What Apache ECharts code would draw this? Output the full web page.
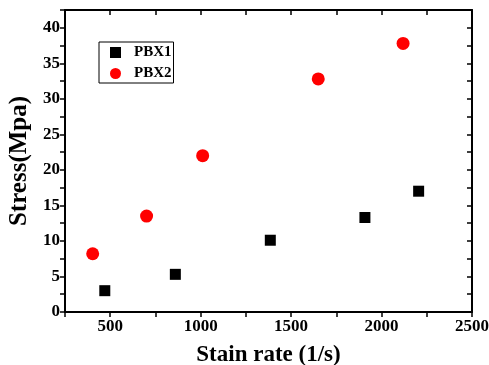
<!DOCTYPE html>
<html><head><meta charset="utf-8">
<script src="https://cdn.jsdelivr.net/npm/echarts@6/dist/echarts.min.js"></script>
<style>html,body{margin:0;padding:0;background:#fff}#c{width:489px;height:365px}</style>
</head><body><div id="c"></div>
<script>
const pbx1X = [470, 860, 1385, 1908, 2205];
const pbx1Y = [3.0, 5.3, 10.1, 13.3, 17.0];
const pbx2X = [403, 701, 1011, 1650, 2119];
const pbx2Y = [8.2, 13.5, 22.0, 32.8, 37.8];
const xTitle = 'Stain rate (1/s)';
const yTitle = 'Stress(Mpa)';
const F = '"Liberation Serif","Times New Roman",serif';

const chart = echarts.init(document.getElementById('c'));
const lineS = {lineStyle:{color:'#000', width:2}};
const xBase = {type:'value', min:250, max:2500, interval:250, splitLine:{show:false}};
const yBase = {type:'value', min:0, max:42.5, interval:2.5, splitLine:{show:false}};
chart.setOption({
  animation:false,
  grid:{left:65, right:17, top:10, bottom:53, containLabel:false, outerBoundsMode:'none'},
  legend:{
    orient:'vertical', left:99, top:42,
    borderColor:'#000', borderWidth:1, padding:[3,2,2,11], itemGap:6,
    itemWidth:11, itemHeight:11,
    textStyle:{fontFamily:F, fontWeight:'bold', fontSize:15, color:'#000', padding:[0,0,0,8]},
    data:[{name:'PBX1', icon:'rect'}, {name:'PBX2', icon:'circle'}]
  },
  xAxis:[
    Object.assign({}, xBase, {position:'bottom',
      name:xTitle, nameLocation:'middle', nameGap:32,
      nameTextStyle:{fontFamily:F, fontWeight:'bold', fontSize:23, color:'#000'},
      axisLine:Object.assign({onZero:false}, lineS),
      axisTick:{inside:false, length:5, lineStyle:{color:'#000', width:1.5}},
      axisLabel:{fontFamily:F, fontWeight:'bold', fontSize:17, color:'#000', margin:6,
        formatter:v => (v % 500 === 0 ? String(v) : '')}}),
    Object.assign({}, xBase, {position:'top',
      axisLine:Object.assign({onZero:false}, lineS),
      axisTick:{inside:true, length:5, lineStyle:{color:'#000', width:1.5}},
      axisLabel:{show:false}})
  ],
  yAxis:[
    Object.assign({}, yBase, {position:'left',
      name:yTitle, nameLocation:'middle', nameGap:33, nameRotate:90,
      nameTextStyle:{fontFamily:F, fontWeight:'bold', fontSize:25, color:'#000'},
      axisLine:Object.assign({onZero:false}, lineS),
      axisTick:{inside:false, length:5, lineStyle:{color:'#000', width:1.5}},
      axisLabel:{fontFamily:F, fontWeight:'bold', fontSize:17, color:'#000', margin:5,
        formatter:v => (Math.abs(v % 5) < 1e-9 ? String(v) : '')}}),
    Object.assign({}, yBase, {position:'right',
      axisLine:Object.assign({onZero:false}, lineS),
      axisTick:{inside:true, length:5, lineStyle:{color:'#000', width:1.5}},
      axisLabel:{show:false}})
  ],
  series:[
    {name:'PBX1', type:'scatter', symbol:'rect', symbolSize:11, xAxisIndex:0, yAxisIndex:0,
      itemStyle:{color:'#000', opacity:1}, data:pbx1X.map((x,i)=>[x,pbx1Y[i]])},
    {name:'PBX2', type:'scatter', symbol:'circle', symbolSize:13, xAxisIndex:0, yAxisIndex:0,
      itemStyle:{color:'#ff0000', opacity:1}, data:pbx2X.map((x,i)=>[x,pbx2Y[i]])}
  ]
});
</script></body></html>
